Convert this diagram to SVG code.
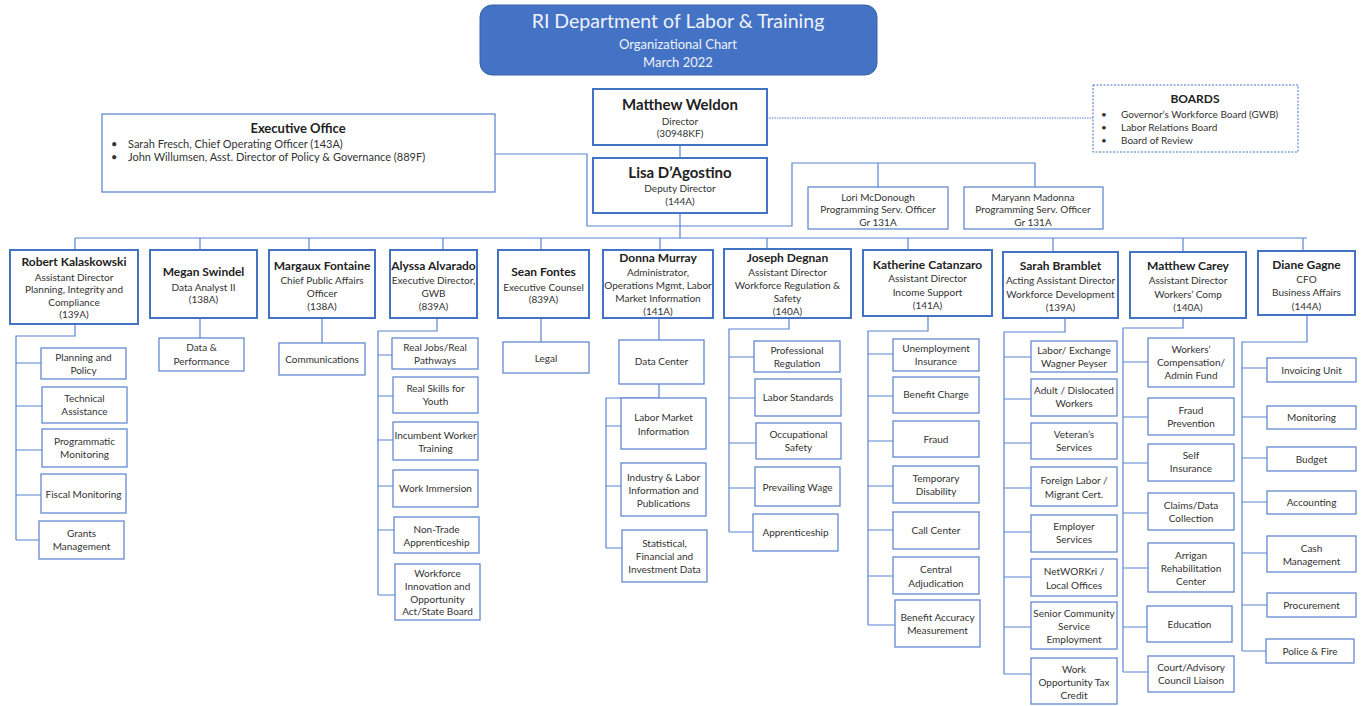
<svg xmlns="http://www.w3.org/2000/svg" width="1364" height="706" viewBox="0 0 1364 706">
<style>
text{font-family:Lato,"Liberation Sans",sans-serif;fill:#333;text-anchor:middle;font-size:10px}
.n{font-weight:bold;font-size:12px;fill:#222}
.nb{font-weight:bold;font-size:15px;fill:#222}
.l{text-anchor:start}
.hd{fill:#fff;stroke:#4472C4;stroke-width:2}
.sb{fill:#fff;stroke:#6389D0;stroke-width:1.3}
#connectors path{fill:none;stroke:#5B84CF;stroke-width:1.2}
</style>
<rect width="1364" height="706" fill="#fff"/>
<g id="title">
<rect x="480" y="5" width="397" height="70" rx="12" fill="#4472C4" stroke="#3A62AA"/>
<text x="678" y="28" style="font-size:19.5px;fill:#eef2fb">RI Department of Labor &amp; Training</text>
<text x="678" y="48.5" style="font-size:13px;fill:#eef2fb">Organizational Chart</text>
<text x="678" y="66.5" style="font-size:13px;fill:#eef2fb">March 2022</text>
</g>
<g id="connectors">
<path d="M680 145V158M680 213V238M495 154H587V226H792V163H1035V187M878 163V187"/>
<path d="M767 118H1093" style="stroke-dasharray:1.5 1;stroke-width:1"/>
<path d="M75 238H1307M75 238V250M200 238V250M309 238V250M443 238V250M541 238V250M660 238V250M767 238V249M908 238V250M1053 238V252M1183 238V252M1303 238V251"/>
<path d="M75 324V336H16V540M16 363H41M16 406H42M16 450H42M16 495H41M16 540H39"/>
<path d="M200 318V338M322 318V343M541 318V342"/>
<path d="M437 318V331H378V595M378 355H392M378 396H393M378 440H393M378 486H393M378 530H394M378 595H395"/>
<path d="M659 318V340M659 384V398H606V548M606 426H621M606 486H621M606 548H622"/>
<path d="M789 318V329H729V532M729 357H754M729 398H755M729 443H756M729 488H755M729 532H753"/>
<path d="M928 316V331H868V625M868 354H893M868 396H893M868 441H893M868 486H893M868 530H893M868 576H893M868 625H895"/>
<path d="M1065 318V332H1004V674M1004 357H1031M1004 399H1031M1004 443H1031M1004 488H1031M1004 532H1031M1004 577H1031M1004 627H1031M1004 674H1031"/>
<path d="M1183 318V328H1123V672M1123 362H1148M1123 417H1148M1123 463H1148M1123 513H1148M1123 568H1148M1123 627H1147M1123 672H1148"/>
<path d="M1307 315V342H1242V651M1242 368H1267M1242 417H1267M1242 458H1267M1242 502H1267M1242 553H1267M1242 605H1267M1242 651H1266"/>
</g>
<g id="weldon"><rect class="hd" x="593" y="89" width="174" height="56"/>
<text class="nb" x="680" y="110">Matthew Weldon</text><text x="680" y="124.5">Director</text><text x="680" y="136.5">(30948KF)</text></g>
<g id="dagostino"><rect class="hd" x="593" y="158" width="174" height="55"/>
<text class="nb" x="680" y="178">Lisa D’Agostino</text><text x="680" y="191.5">Deputy Director</text><text x="680" y="204.5">(144A)</text></g>
<g id="exec"><rect class="sb" x="102" y="114" width="393" height="78"/>
<text class="n" x="298" y="132.5" style="font-size:13px">Executive Office</text>
<text class="l" x="111" y="148" style="font-size:11px">•</text><text class="l" x="128" y="148" style="font-size:11px">Sarah Fresch, Chief Operating Officer (143A)</text>
<text class="l" x="111" y="161" style="font-size:11px">•</text><text class="l" x="128" y="161" style="font-size:11px">John Willumsen, Asst. Director of Policy &amp; Governance (889F)</text></g>
<g id="boards"><rect x="1093" y="85" width="205" height="67" fill="#fff" stroke="#4472C4" stroke-width="1" stroke-dasharray="2 1.5"/>
<text class="n" x="1195" y="103">BOARDS</text>
<text class="l" x="1101" y="117.5">•</text><text class="l" x="1121" y="117.5">Governor’s Workforce Board (GWB)</text>
<text class="l" x="1101" y="130.5">•</text><text class="l" x="1121" y="130.5">Labor Relations Board</text>
<text class="l" x="1101" y="143.5">•</text><text class="l" x="1121" y="143.5">Board of Review</text></g>
<g id="mcdonough"><rect class="sb" x="808" y="187" width="140" height="42"/>
<text x="878" y="200.5">Lori McDonough</text><text x="878" y="213">Programming Serv. Officer</text><text x="878" y="225.5">Gr 131A</text></g>
<g id="madonna"><rect class="sb" x="964" y="187" width="139" height="42"/>
<text x="1033" y="200.5">Maryann Madonna</text><text x="1033" y="213">Programming Serv. Officer</text><text x="1033" y="225.5">Gr 131A</text></g>

<g id="kalaskowski"><rect class="hd" x="10" y="250" width="128" height="74"/>
<text class="n" x="74" y="266">Robert Kalaskowski</text><text x="74" y="280.5">Assistant Director</text><text x="74" y="293">Planning, Integrity and</text><text x="74" y="306">Compliance</text><text x="74" y="318">(139A)</text></g>
<g id="swindel"><rect class="hd" x="150" y="250" width="107" height="68"/>
<text class="n" x="203.5" y="275.5">Megan Swindel</text><text x="203.5" y="290.5">Data Analyst II</text><text x="203.5" y="302.5">(138A)</text></g>
<g id="fontaine"><rect class="hd" x="269" y="250" width="106" height="68"/>
<text class="n" x="322" y="269.5">Margaux Fontaine</text><text x="322" y="283.5">Chief Public Affairs</text><text x="322" y="296.5">Officer</text><text x="322" y="309.5">(138A)</text></g>
<g id="alvarado"><rect class="hd" x="390" y="250" width="87" height="68"/>
<text class="n" x="433.5" y="269.5">Alyssa Alvarado</text><text x="433.5" y="283.5">Executive Director,</text><text x="433.5" y="296.5">GWB</text><text x="433.5" y="309.5">(839A)</text></g>
<g id="sfontes"><rect class="hd" x="498" y="250" width="91" height="68"/>
<text class="n" x="543.5" y="275.5">Sean Fontes</text><text x="543.5" y="290.5">Executive Counsel</text><text x="543.5" y="302.5">(839A)</text></g>
<g id="murray"><rect class="hd" x="603" y="250" width="110" height="68"/>
<text class="n" x="658" y="262">Donna Murray</text><text x="658" y="275.5">Administrator,</text><text x="658" y="289">Operations Mgmt, Labor</text><text x="658" y="301.5">Market Information</text><text x="658" y="314.5">(141A)</text></g>
<g id="degnan"><rect class="hd" x="724" y="249" width="127" height="69"/>
<text class="n" x="787.5" y="262">Joseph Degnan</text><text x="787.5" y="275.5">Assistant Director</text><text x="787.5" y="289">Workforce Regulation &amp;</text><text x="787.5" y="301.5">Safety</text><text x="787.5" y="314.5">(140A)</text></g>
<g id="catanzaro"><rect class="hd" x="863" y="250" width="129" height="66"/>
<text class="n" x="927.5" y="268.5">Katherine Catanzaro</text><text x="927.5" y="282">Assistant Director</text><text x="927.5" y="295.5">Income Support</text><text x="927.5" y="308.5">(141A)</text></g>
<g id="bramblet"><rect class="hd" x="1003" y="252" width="115" height="66"/>
<text class="n" x="1060.5" y="269.5">Sarah Bramblet</text><text x="1060.5" y="283.5">Acting Assistant Director</text><text x="1060.5" y="297.5">Workforce Development</text><text x="1060.5" y="310.5">(139A)</text></g>
<g id="carey"><rect class="hd" x="1130" y="252" width="116" height="66"/>
<text class="n" x="1188" y="269.5">Matthew Carey</text><text x="1188" y="283.5">Assistant Director</text><text x="1188" y="297.5">Workers’ Comp</text><text x="1188" y="310.5">(140A)</text></g>
<g id="gagne"><rect class="hd" x="1258" y="251" width="97" height="64"/>
<text class="n" x="1306.5" y="268.5">Diane Gagne</text><text x="1306.5" y="282.5">CFO</text><text x="1306.5" y="295.5">Business Affairs</text><text x="1306.5" y="309.5">(144A)</text></g>

<g id="planning"><rect class="sb" x="41" y="348" width="85" height="31"/><text x="83.5" y="360.5">Planning and</text><text x="83.5" y="373.5">Policy</text></g>
<g id="technical"><rect class="sb" x="42" y="387" width="85" height="36"/><text x="84.5" y="401.5">Technical</text><text x="84.5" y="414.5">Assistance</text></g>
<g id="programmatic"><rect class="sb" x="42" y="429" width="85" height="38"/><text x="84.5" y="444.5">Programmatic</text><text x="84.5" y="457.5">Monitoring</text></g>
<g id="fiscal"><rect class="sb" x="41" y="474" width="85" height="39"/><text x="83.5" y="497.5">Fiscal Monitoring</text></g>
<g id="grants"><rect class="sb" x="39" y="521" width="85" height="38"/><text x="81.5" y="536.5">Grants</text><text x="81.5" y="549.5">Management</text></g>
<g id="dataperf"><rect class="sb" x="159" y="338" width="85" height="33"/><text x="201.5" y="350.5">Data &amp;</text><text x="201.5" y="364.5">Performance</text></g>
<g id="comms"><rect class="sb" x="279" y="343" width="86" height="32"/><text x="322" y="362.5">Communications</text></g>
<g id="realjobs"><rect class="sb" x="392" y="338" width="86" height="31"/><text x="435" y="350.5">Real Jobs/Real</text><text x="435" y="363.5">Pathways</text></g>
<g id="realskills"><rect class="sb" x="393" y="377" width="85" height="36"/><text x="435.5" y="391.5">Real Skills for</text><text x="435.5" y="404.5">Youth</text></g>
<g id="incumbent"><rect class="sb" x="393" y="422" width="85" height="38"/><text x="435.5" y="438.5">Incumbent Worker</text><text x="435.5" y="451.5">Training</text></g>
<g id="immersion"><rect class="sb" x="393" y="470" width="85" height="37"/><text x="435.5" y="491.5">Work Immersion</text></g>
<g id="nontrade"><rect class="sb" x="394" y="517" width="85" height="36"/><text x="436.5" y="532.5">Non-Trade</text><text x="436.5" y="545.5">Apprenticeship</text></g>
<g id="wioa"><rect class="sb" x="395" y="564" width="85" height="56"/><text x="437.5" y="576.5">Workforce</text><text x="437.5" y="589.5">Innovation and</text><text x="437.5" y="602.5">Opportunity</text><text x="437.5" y="614.5">Act/State Board</text></g>
<g id="legal"><rect class="sb" x="503" y="342" width="86" height="31"/><text x="546" y="361.5">Legal</text></g>
<g id="datacenter"><rect class="sb" x="619" y="340" width="85" height="44"/><text x="661.5" y="364.5">Data Center</text></g>
<g id="lmi"><rect class="sb" x="621" y="398" width="85" height="51"/><text x="663.5" y="420.5">Labor Market</text><text x="663.5" y="434.5">Information</text></g>
<g id="industry"><rect class="sb" x="621" y="463" width="85" height="53"/><text x="663.5" y="480.5">Industry &amp; Labor</text><text x="663.5" y="493.5">Information and</text><text x="663.5" y="506.5">Publications</text></g>
<g id="statistical"><rect class="sb" x="622" y="530" width="85" height="52"/><text x="664.5" y="546.5">Statistical,</text><text x="664.5" y="559.5">Financial and</text><text x="664.5" y="572.5">Investment Data</text></g>
<g id="profreg"><rect class="sb" x="754" y="341" width="86" height="31"/><text x="797" y="353.5">Professional</text><text x="797" y="366.5">Regulation</text></g>
<g id="laborstd"><rect class="sb" x="755" y="379" width="86" height="37"/><text x="798" y="400.5">Labor Standards</text></g>
<g id="occsafety"><rect class="sb" x="756" y="423" width="85" height="36"/><text x="798.5" y="437.5">Occupational</text><text x="798.5" y="450.5">Safety</text></g>
<g id="prevwage"><rect class="sb" x="755" y="467" width="85" height="39"/><text x="797.5" y="490.5">Prevailing Wage</text></g>
<g id="apprent"><rect class="sb" x="753" y="514" width="85" height="37"/><text x="795.5" y="535.5">Apprenticeship</text></g>
<g id="ui"><rect class="sb" x="893" y="339" width="86" height="32"/><text x="936" y="351.5">Unemployment</text><text x="936" y="364.5">Insurance</text></g>
<g id="bencharge"><rect class="sb" x="893" y="377" width="86" height="36"/><text x="936" y="397.5">Benefit Charge</text></g>
<g id="fraud"><rect class="sb" x="893" y="421" width="86" height="36"/><text x="936" y="442.5">Fraud</text></g>
<g id="tempdis"><rect class="sb" x="893" y="466" width="86" height="37"/><text x="936" y="481.5">Temporary</text><text x="936" y="494.5">Disability</text></g>
<g id="callcenter"><rect class="sb" x="893" y="512" width="86" height="37"/><text x="936" y="533.5">Call Center</text></g>
<g id="centraladj"><rect class="sb" x="893" y="557" width="86" height="37"/><text x="936" y="572.5">Central</text><text x="936" y="586.5">Adjudication</text></g>
<g id="benacc"><rect class="sb" x="895" y="600" width="85" height="47"/><text x="937.5" y="620.5">Benefit Accuracy</text><text x="937.5" y="633.5">Measurement</text></g>
<g id="wagner"><rect class="sb" x="1031" y="341" width="86" height="31"/><text x="1074" y="353.5">Labor/ Exchange</text><text x="1074" y="366.5">Wagner Peyser</text></g>
<g id="adult"><rect class="sb" x="1031" y="379" width="86" height="37"/><text x="1074" y="393.5">Adult / Dislocated</text><text x="1074" y="406.5">Workers</text></g>
<g id="veteran"><rect class="sb" x="1031" y="423" width="86" height="36"/><text x="1074" y="437.5">Veteran’s</text><text x="1074" y="450.5">Services</text></g>
<g id="foreign"><rect class="sb" x="1031" y="467" width="86" height="39"/><text x="1074" y="483.5">Foreign Labor /</text><text x="1074" y="497.5">Migrant Cert.</text></g>
<g id="employer"><rect class="sb" x="1031" y="515" width="86" height="37"/><text x="1074" y="529.5">Employer</text><text x="1074" y="542.5">Services</text></g>
<g id="networkri"><rect class="sb" x="1031" y="559" width="86" height="37"/><text x="1074" y="574.5">NetWORKri /</text><text x="1074" y="588.5">Local Offices</text></g>
<g id="senior"><rect class="sb" x="1031" y="602" width="86" height="47"/><text x="1074" y="616.5">Senior Community</text><text x="1074" y="629.5">Service</text><text x="1074" y="642.5">Employment</text></g>
<g id="wotc"><rect class="sb" x="1031" y="658" width="86" height="46"/><text x="1074" y="672.5">Work</text><text x="1074" y="685.5">Opportunity Tax</text><text x="1074" y="698.5">Credit</text></g>
<g id="wcadmin"><rect class="sb" x="1148" y="338" width="86" height="49"/><text x="1191" y="352.5">Workers’</text><text x="1191" y="365.5">Compensation/</text><text x="1191" y="378.5">Admin Fund</text></g>
<g id="fraudprev"><rect class="sb" x="1148" y="398" width="86" height="37"/><text x="1191" y="413.5">Fraud</text><text x="1191" y="426.5">Prevention</text></g>
<g id="selfins"><rect class="sb" x="1148" y="444" width="86" height="37"/><text x="1191" y="458.5">Self</text><text x="1191" y="471.5">Insurance</text></g>
<g id="claims"><rect class="sb" x="1148" y="493" width="86" height="37"/><text x="1191" y="508.5">Claims/Data</text><text x="1191" y="521.5">Collection</text></g>
<g id="arrigan"><rect class="sb" x="1148" y="543" width="86" height="49"/><text x="1191" y="558.5">Arrigan</text><text x="1191" y="571.5">Rehabilitation</text><text x="1191" y="584.5">Center</text></g>
<g id="education"><rect class="sb" x="1147" y="606" width="85" height="36"/><text x="1189.5" y="627.5">Education</text></g>
<g id="court"><rect class="sb" x="1148" y="656" width="86" height="36"/><text x="1191" y="670.5">Court/Advisory</text><text x="1191" y="683.5">Council Liaison</text></g>
<g id="invoicing"><rect class="sb" x="1267" y="358" width="89" height="24"/><text x="1311.5" y="373.5">Invoicing Unit</text></g>
<g id="monitoring"><rect class="sb" x="1267" y="406" width="89" height="23"/><text x="1311.5" y="420.5">Monitoring</text></g>
<g id="budget"><rect class="sb" x="1267" y="447" width="89" height="24"/><text x="1311.5" y="462.5">Budget</text></g>
<g id="accounting"><rect class="sb" x="1267" y="491" width="89" height="23"/><text x="1311.5" y="505.5">Accounting</text></g>
<g id="cash"><rect class="sb" x="1267" y="536" width="89" height="36"/><text x="1311.5" y="551.5">Cash</text><text x="1311.5" y="564.5">Management</text></g>
<g id="procurement"><rect class="sb" x="1267" y="593" width="89" height="24"/><text x="1311.5" y="608.5">Procurement</text></g>
<g id="police"><rect class="sb" x="1266" y="639" width="88" height="24"/><text x="1310" y="654.5">Police &amp; Fire</text></g>
</svg>
